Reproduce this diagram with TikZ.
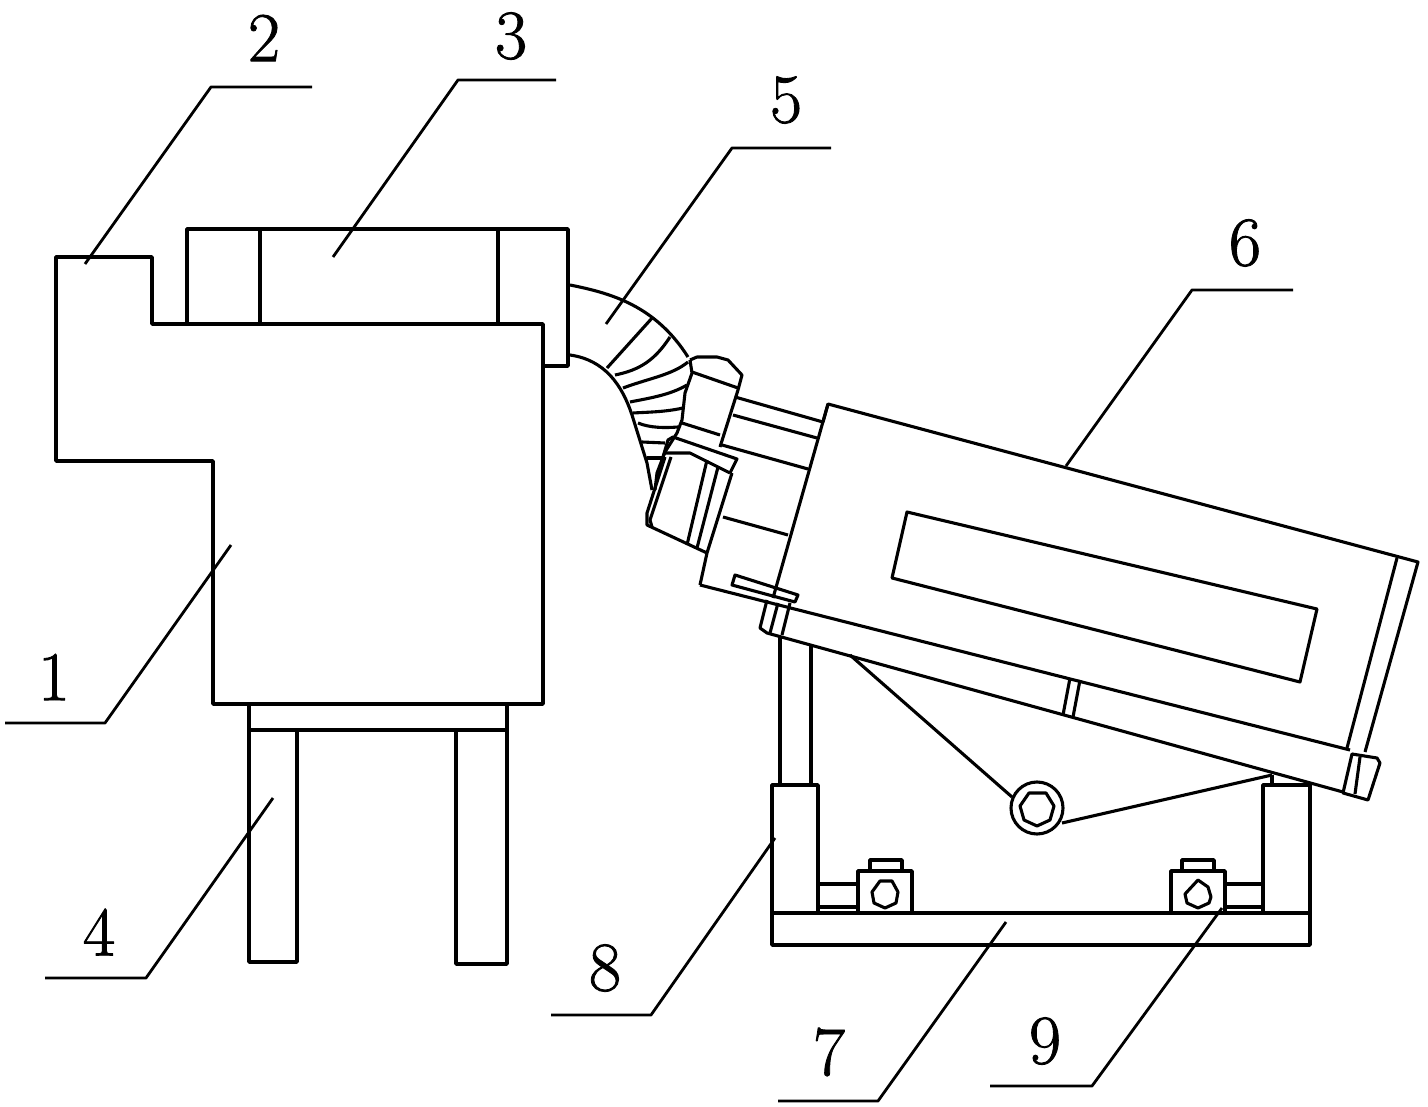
\documentclass[tikz,border=0pt]{standalone}
\usepackage{fontspec}
\newfontfamily\numfont[FakeBold=1.2]{Latin Modern Roman}
\usepackage{tikz}

\begin{document}
\begin{tikzpicture}[x=1pt, y=-1pt, line join=round, semithick]
  \tikzstyle{every node}=[inner sep=0pt]
  \tikzstyle{part}=[draw=black, line width=3.6pt]
  \tikzstyle{thin part}=[draw=black, line width=3.1pt]
  \tikzstyle{leader}=[draw=black, line width=2.8pt]
  \tikzstyle{number}=[font=\numfont\fontsize{70}{70}\selectfont, text=black]

  \useasboundingbox (0,0) rectangle (1428,1107);

  % tank, inlet box and legs
  \draw[part] (56,257) -- (152,257) -- (152,324) -- (543,324) -- (543,704)
              -- (213,704) -- (213,461) -- (56,461) -- cycle;
  \draw[part] (187,324) -- (187,229) -- (568,229) -- (568,366) -- (543,366);
  \draw[part] (260,229) -- (260,324);
  \draw[part] (498,229) -- (498,324);
  \draw[part] (249,704) -- (249,962) -- (297,962) -- (297,730);
  \draw[part] (456,730) -- (456,964) -- (507,964) -- (507,704);
  \draw[part] (249,730) -- (507,730);

  % hose
  \draw[thin part] (570,285) .. controls (610,293) and (655,305) .. (688,357);
  \draw[thin part] (570,355) .. controls (605,360) and (622,385) .. (632,415)
                   -- (647,463) -- (652,490);
  \draw[thin part] (690,360) -- (692,373) -- (685,393) -- (682,420) -- (677,433)
                   -- (665,452) -- (657,473) -- (655,490);
  \draw[thin part] (607,368) -- (653,317);
  \draw[thin part] (615,375) .. controls (640,370) and (655,360) .. (670,337);
  \draw[thin part] (623,388) .. controls (650,378) and (672,375) .. (688,362);
  \draw[thin part] (630,402) .. controls (650,398) and (670,395) .. (687,385);
  \draw[thin part] (633,413) .. controls (650,412) and (665,412) .. (683,408);
  \draw[thin part] (638,423) .. controls (650,428) and (665,428) .. (678,427);
  \draw[thin part] (642,442) -- (665,443);
  \draw[thin part] (647,458) -- (663,458);

  % couplings
  \draw[thin part] (690,360) -- (697,357) -- (717,357) -- (728,360) -- (742,375)
                   -- (738,390) -- (720,447);
  \draw[thin part] (692,372) -- (738,388);
  \draw[thin part] (682,423) -- (720,435);
  \draw[thin part] (663,457) -- (668,440) -- (673,437) -- (737,459) -- (730,473);
  \draw[thin part] (665,453) -- (690,453) -- (730,473);
  \draw[thin part] (665,457) -- (647,513) -- (647,525) -- (707,553);
  \draw[thin part] (671,457) -- (650,520) -- (652,527);
  \draw[thin part] (707,460) -- (687,545);
  \draw[thin part] (718,467) -- (697,548);
  \draw[thin part] (732,473) -- (707,553) -- (700,585);

  % machine body
  \draw[thin part] (735,397) -- (823,422);
  \draw[thin part] (733,415) -- (817,438);
  \draw[thin part] (722,445) -- (808,469);
  \draw[thin part] (723,517) -- (788,535);
  \draw[thin part] (823,422) -- (828,404) -- (1418,562) -- (1365,752);
  \draw[thin part] (828,404) -- (773,598);
  \draw[thin part] (700,585) -- (1350,750);
  \draw[thin part] (1397,558) -- (1347,748);
  \draw[thin part] (907,512) -- (1317,609) -- (1300,682) -- (892,578) -- cycle;

  % rail and its clamps
  \draw[thin part] (735,575) -- (732,585) -- (795,602) -- (798,595) -- cycle;
  \draw[thin part] (767,600) -- (760,628) -- (767,633) -- (1343,792);
  \draw[thin part] (778,603) -- (770,633);
  \draw[thin part] (790,603) -- (782,635);
  \draw[thin part] (1352,754) -- (1377,758) -- (1380,763) -- (1368,800) -- (1343,793)
                   -- cycle;
  \draw[thin part] (1360,757) -- (1355,794);
  \draw[thin part] (1070,678) -- (1063,715);
  \draw[thin part] (1080,680) -- (1073,717);

  % stand
  \draw[part] (772,913) -- (772,785) -- (818,785) -- (818,913);
  \draw[part] (1263,913) -- (1263,785) -- (1310,785) -- (1310,913);
  \draw[part] (772,913) rectangle (1310,945);
  \draw[part] (780,637) -- (780,785);
  \draw[part] (811,646) -- (811,785);
  \draw[part] (1272,775) -- (1272,785);

  % pivot
  \draw[thin part] (1037,808) circle (26);
  \draw[thin part] (1029,793) -- (1046,793) -- (1054,806) -- (1050,820) -- (1037,826)
                   -- (1024,820) -- (1020,806) -- cycle;
  \draw[thin part] (850,655) -- (1012,797);
  \draw[thin part] (1062,823) -- (1272,775);

  % clamping screws
  \draw[part] (858,913) -- (858,871) -- (912,871) -- (912,913);
  \draw[part] (870,871) -- (870,860) -- (902,860) -- (902,871);
  \draw[thin part] (880,881) -- (892,881) -- (898,892) -- (896,903) -- (885,908)
                   -- (874,903) -- (872,892) -- cycle;
  \draw[part] (818,884) -- (858,884);
  \draw[part] (818,907) -- (858,907);
  \draw[part] (1171,913) -- (1171,871) -- (1225,871) -- (1225,913);
  \draw[part] (1182,871) -- (1182,860) -- (1214,860) -- (1214,871);
  \draw[thin part] (1198,880) -- (1208,887) -- (1211,897) -- (1209,903) -- (1198,908)
                   -- (1187,903) -- (1185,894) -- cycle;
  \draw[part] (1225,884) -- (1263,884);
  \draw[part] (1225,907) -- (1263,907);

  % numbers
  \node[number] (n1) at (54,677)   {1};
  \node[number] (n2) at (264,38)   {2};
  \node[number] (n3) at (511,36)   {3};
  \node[number] (n4) at (99,932)   {4};
  \node[number] (n5) at (786,100)  {5};
  \node[number] (n6) at (1245,243) {6};
  \node[number] (n7) at (829,1052) {7};
  \node[number] (n8) at (605,968)  {8};
  \node[number] (n9) at (1045,1041) {9};

  \coordinate (a1) at (231,545);   \coordinate (b1) at (105,723);  \coordinate (c1) at (5,723);
  \coordinate (a2) at (85,264);    \coordinate (b2) at (211,87);   \coordinate (c2) at (312,87);
  \coordinate (a3) at (333,257);   \coordinate (b3) at (458,80);   \coordinate (c3) at (556,80);
  \coordinate (a4) at (273,798);   \coordinate (b4) at (146,978);  \coordinate (c4) at (45,978);
  \coordinate (a5) at (606,324);   \coordinate (b5) at (732,148);  \coordinate (c5) at (831,148);
  \coordinate (a6) at (1066,466);  \coordinate (b6) at (1192,290); \coordinate (c6) at (1293,290);
  \coordinate (a7) at (1006,922);  \coordinate (b7) at (878,1101); \coordinate (c7) at (778,1101);
  \coordinate (a8) at (775,838);   \coordinate (b8) at (651,1015); \coordinate (c8) at (551,1015);
  \coordinate (a9) at (1222,908);  \coordinate (b9) at (1092,1086); \coordinate (c9) at (990,1086);

  \draw[leader] (a1) -- (b1) -- (c1);
  \draw[leader] (a2) -- (b2) -- (c2);
  \draw[leader] (a3) -- (b3) -- (c3);
  \draw[leader] (a4) -- (b4) -- (c4);
  \draw[leader] (a5) -- (b5) -- (c5);
  \draw[leader] (a6) -- (b6) -- (c6);
  \draw[leader] (a7) -- (b7) -- (c7);
  \draw[leader] (a8) -- (b8) -- (c8);
  \draw[leader] (a9) -- (b9) -- (c9);
\end{tikzpicture}
\end{document}
